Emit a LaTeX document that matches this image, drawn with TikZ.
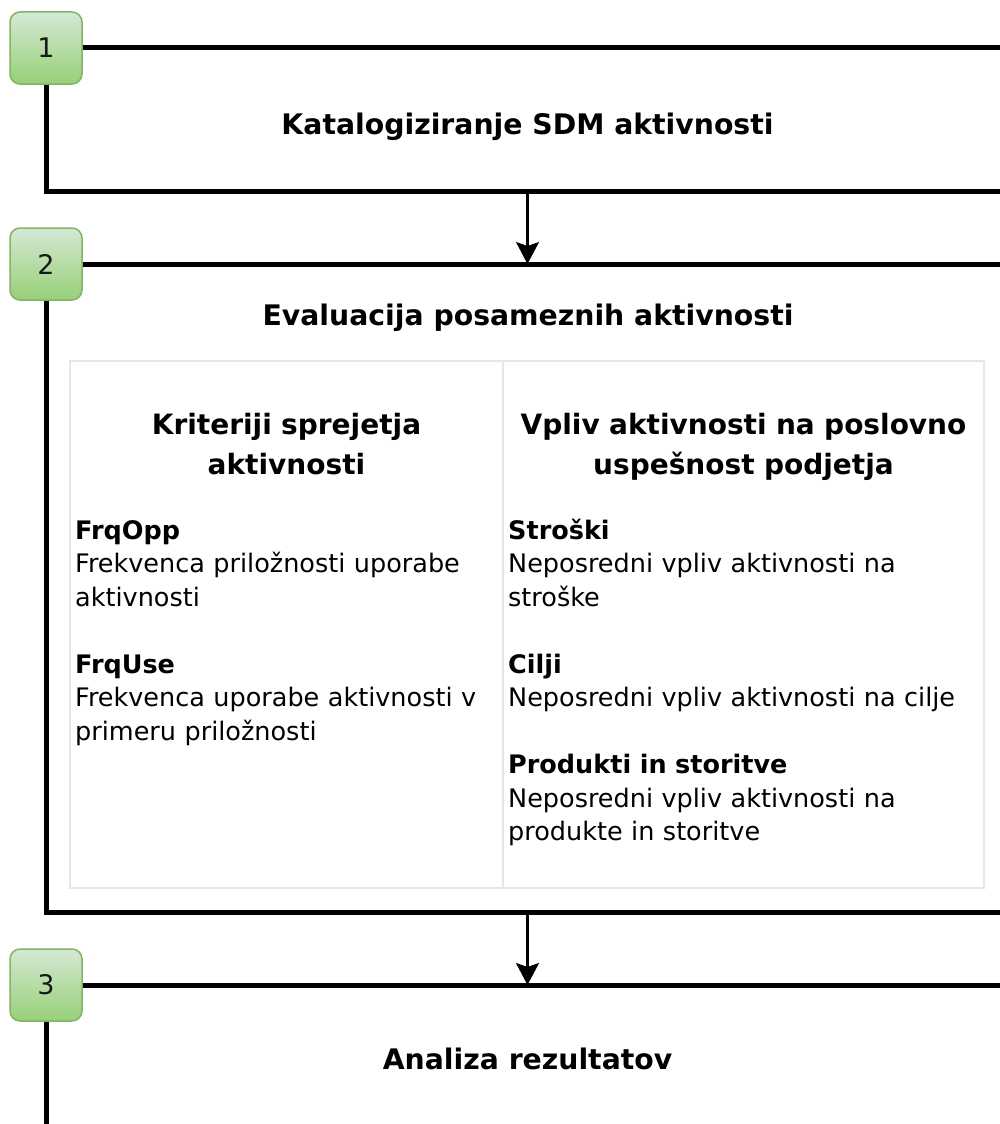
\documentclass[tikz,border=0pt]{standalone}
\usepackage{fontspec}
\setmainfont{DejaVu Sans}
\usetikzlibrary{arrows.meta, positioning}
\usepackage{xcolor}
\definecolor{badgetop}{HTML}{D5E8D4}
\definecolor{badgebot}{HTML}{97D077}
\definecolor{badgeline}{HTML}{82B366}
\definecolor{cellline}{HTML}{E6E6E6}

\begin{document}
\begin{tikzpicture}[x=1pt, y=-1pt,
  frame/.style={draw, line width=5pt, minimum width=963pt, anchor=north west, inner sep=0pt, outer sep=0pt},
  badge/.style={draw=badgeline, line width=1.5pt, rounded corners=10pt, top color=badgetop, bottom color=badgebot, minimum size=72pt, inner sep=0pt, text=black!90, font=\fontsize{27}{30}\selectfont},
  cell/.style={draw=cellline, line width=2pt, anchor=north west, inner sep=0pt, outer sep=0pt, minimum height=527pt},
  steptitle/.style={anchor=base, inner sep=0pt, font=\fontsize{28.3}{33}\selectfont\bfseries},
  colhead/.style={anchor=base, inner sep=0pt, text width=478pt, align=center, font=\fontsize{28}{40}\selectfont\bfseries},
  entry/.style={anchor=base west, inner sep=0pt, text width=470pt, align=left, font=\fontsize{25.5}{33.5}\selectfont},
  flow/.style={-{Stealth[length=22pt, width=23pt, inset=4pt]}, line width=2.2pt}]
  \useasboundingbox (0,0) rectangle (1000,1124);
  \clip (0,0) rectangle (1000,1124);

  % step frames
  \node[frame, minimum height=143pt] (box1) at (46,48) {};
  \node[frame, minimum height=648pt] (box2) at (46,264) {};
  \node[frame, minimum height=200pt] (box3) at (46,985) {};

  % step numbers
  \node[badge] (n1) at (46,48) {1};
  \node[badge] (n2) at (46,264) {2};
  \node[badge] (n3) at (46,985) {3};

  % titles
  \node[steptitle] (t1) at (527.5,134) {Katalogiziranje SDM aktivnosti};
  \node[steptitle] (t2) at (528,325.5) {Evaluacija posameznih aktivnosti};
  \node[steptitle] (t3) at (527.5,1069.5) {Analiza rezultatov};

  % evaluation table
  \node[cell, minimum width=433pt] (critcell) at (70,361) {};
  \node[cell, minimum width=481pt] (implcell) at (critcell.north east) {};

  \node[colhead] (crithead) at (286.5,434) {Kriteriji sprejetja\\aktivnosti};
  \node[colhead] (implhead) at (743.5,434) {Vpliv aktivnosti na poslovno\\uspešnost podjetja};

  \node[entry] (frqopp) at (75,539) {\textbf{FrqOpp}\\Frekvenca priložnosti uporabe\\aktivnosti};
  \node[entry] (frquse) at (75,673) {\textbf{FrqUse}\\Frekvenca uporabe aktivnosti v\\primeru priložnosti};
  \node[entry] (costs) at (508,539) {\textbf{Stroški}\\Neposredni vpliv aktivnosti na\\stroške};
  \node[entry] (goals) at (508,673) {\textbf{Cilji}\\Neposredni vpliv aktivnosti na cilje};
  \node[entry] (prods) at (508,773.5) {\textbf{Produkti in storitve}\\Neposredni vpliv aktivnosti na\\produkte in storitve};

  \draw[flow] (box1) -- (box2);
  \draw[flow] (box2) -- (box3);
\end{tikzpicture}
\end{document}
